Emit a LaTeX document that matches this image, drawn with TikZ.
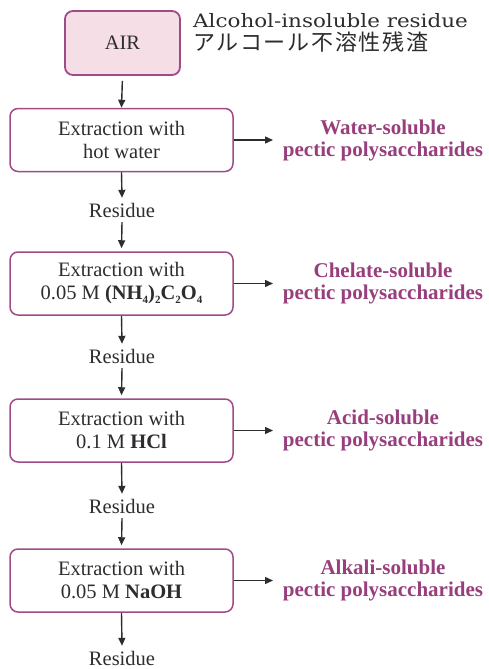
\documentclass[tikz,border=0pt]{standalone}
\usepackage{fontspec}
\setmainfont{Liberation Serif}
\newfontfamily\alcfont[FakeStretch=1.16]{DejaVu Serif}
\newfontfamily\cjkfont[LetterSpace=8]{Noto Sans CJK JP}
\usetikzlibrary{arrows.meta}

\definecolor{frame}{RGB}{160,75,135}
\definecolor{airfill}{RGB}{246,222,231}
\definecolor{product}{RGB}{152,62,125}
\definecolor{ink}{RGB}{45,45,45}

% small lowered digits for chemical formulas
\newcommand{\chsub}[1]{\raisebox{-0.35ex}{\fontsize{11}{11}\selectfont #1}}

\tikzset{
  stepbox/.style={draw=frame, line width=1.5pt, rounded corners=8pt, fill=white,
    minimum width=223pt, minimum height=63pt, align=center, text=ink,
    font=\fontsize{20.5}{23}\selectfont},
  airbox/.style={stepbox, fill=airfill, line width=1.8pt, minimum width=115pt, minimum height=64pt},
  residue/.style={inner xsep=2pt, inner ysep=5pt, text height=14pt, text depth=0pt,
    text=ink, font=\fontsize{20.5}{23}\selectfont},
  product/.style={align=center, text=product, font=\fontsize{21}{22}\selectfont\bfseries},
  flow/.style={draw=ink, line width=1.4pt, -{Triangle[length=8pt,width=7pt]}},
  caption/.style={anchor=base west, text=ink, inner sep=0pt},
}

\begin{document}
\begin{tikzpicture}[x=1pt,y=-1pt]
\useasboundingbox (0,0) rectangle (488,669);

% starting material
\node[airbox] (air) at (122.5,43) {AIR};
\node[caption, font=\alcfont\fontsize{18.5}{20}\selectfont] (airname) at (193,27.5) {Alcohol-insoluble residue};
\node[caption, font=\cjkfont\fontsize{22}{24}\selectfont, text height=17pt, text depth=3pt] (airja) at (193,51) {アルコール不溶性残渣};

% extraction steps
\node[stepbox] (b1) at (121.5,140) {Extraction with\\hot water};
\node[residue] (r1) at (122,210) {Residue};
\node[stepbox] (b2) at (121.5,283.5) {Extraction with\\0.05 M \textbf{(NH\chsub{4})\chsub{2}C\chsub{2}O\chsub{4}}};
\node[residue] (r2) at (122,356) {Residue};
\node[stepbox] (b3) at (121.5,430.5) {Extraction with\\0.1 M \textbf{HCl}};
\node[residue] (r3) at (122,506) {Residue};
\node[stepbox] (b4) at (121.5,580.5) {Extraction with\\0.05 M \textbf{NaOH}};
\node[residue] (r4) at (122,658) {Residue};

% soluble fractions
\node[product] (p1) at (383,140) {Water-soluble\\pectic polysaccharides};
\node[product] (p2) at (383,283) {Chelate-soluble\\pectic polysaccharides};
\node[product] (p3) at (383,430) {Acid-soluble\\pectic polysaccharides};
\node[product] (p4) at (383,580) {Alkali-soluble\\pectic polysaccharides};

\coordinate (e1) at (273,140);
\coordinate (e2) at (273,283.5);
\coordinate (e3) at (273,430.5);
\coordinate (e4) at (273,580.5);

% main sequence
\draw[flow, shorten <=5pt] (air.south) -- (b1.north);
\draw[flow] (b1.south) -- (r1.north);
\draw[flow, shorten >=3pt] (r1.south) -- (b2.north);
\draw[flow] (b2.south) -- (r2.north);
\draw[flow, shorten >=3pt] (r2.south) -- (b3.north);
\draw[flow] (b3.south) -- (r3.north);
\draw[flow, shorten >=3pt] (r3.south) -- (b4.north);
\draw[flow] (b4.south) -- (r4.north);

% side outputs
\draw[flow] (b1.east) -- (e1);
\draw[flow] (b2.east) -- (e2);
\draw[flow] (b3.east) -- (e3);
\draw[flow] (b4.east) -- (e4);
\end{tikzpicture}
\end{document}
